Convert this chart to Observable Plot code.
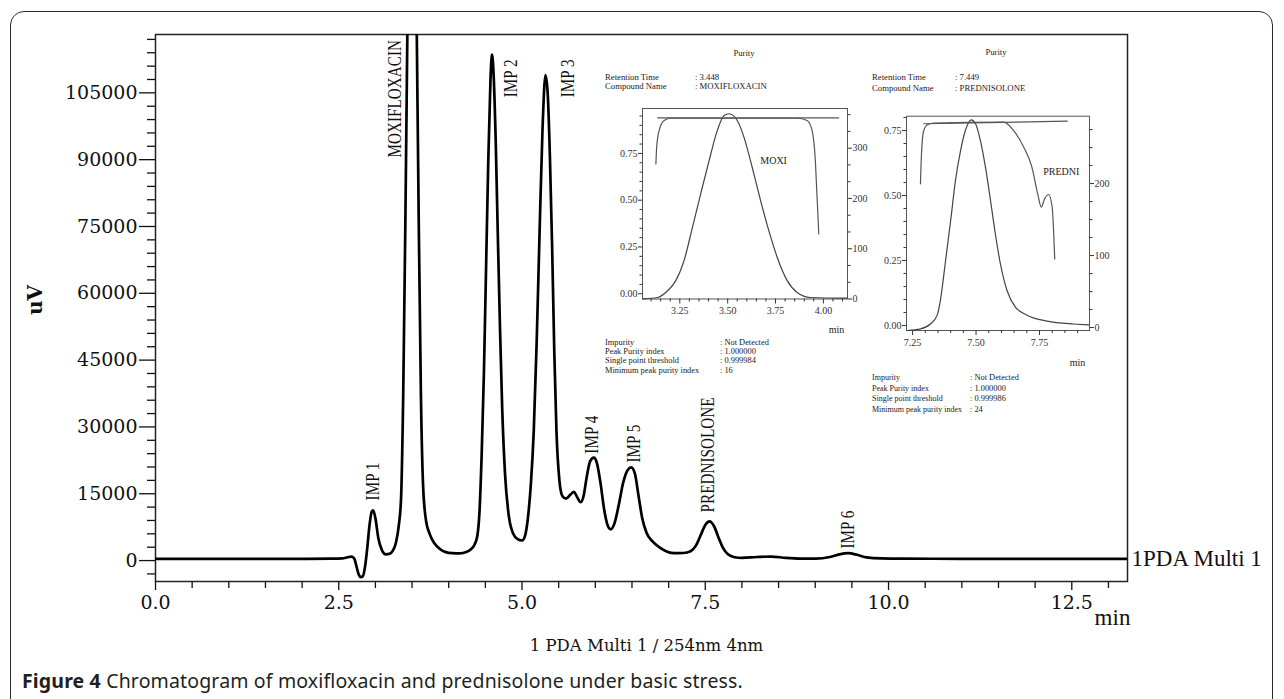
<!DOCTYPE html>
<html><head><meta charset="utf-8">
<script src="https://cdn.jsdelivr.net/npm/d3@7"></script>
<script src="https://cdn.jsdelivr.net/npm/@observablehq/plot@0.6"></script>
<style>
html,body{margin:0;padding:0;background:#fff;}
body{width:1284px;height:699px;position:relative;overflow:hidden;}
#border{position:absolute;left:10px;top:11px;width:1263px;height:760px;border:1.5px solid #2b2b2b;border-radius:14px;box-sizing:border-box;}
.abs{position:absolute;}
.info{position:absolute;font-family:"Liberation Serif",serif;font-size:8.7px;line-height:10px;color:#1a1a1a;white-space:nowrap;}
#caption{position:absolute;left:22px;top:671px;font-family:"Noto Sans",sans-serif;font-size:19.5px;line-height:20px;letter-spacing:0.15px;color:#231f20;white-space:nowrap;}
</style></head><body>
<div id="border"></div>
<div id="main" class="abs" style="left:0;top:0"></div>
<div id="inset1" class="abs" style="left:570px;top:100px"></div>
<div id="inset2" class="abs" style="left:850px;top:105px"></div>
<div id="info1" class="abs" style="left:0;top:0"></div>
<div id="info2" class="abs" style="left:0;top:0"></div>
<div id="caption"></div>
<script>
// ---------- main chromatogram data ----------
const time = [0.00,0.50,1.00,1.50,2.00,2.40,2.55,2.62,2.67,2.71,2.74,2.77,2.80,2.83,2.86,2.89,2.92,2.95,2.97,3.00,3.04,3.09,3.14,3.19,3.24,3.28,3.32,3.35,3.38,3.41,3.44,3.47,3.50,3.53,3.56,3.59,3.62,3.65,3.69,3.74,3.80,3.88,3.96,4.05,4.15,4.24,4.30,4.35,4.39,4.42,4.45,4.48,4.51,4.54,4.57,4.59,4.61,4.64,4.67,4.70,4.73,4.77,4.82,4.88,4.94,5.00,5.04,5.08,5.12,5.16,5.20,5.24,5.28,5.32,5.35,5.38,5.41,5.44,5.47,5.51,5.55,5.60,5.66,5.71,5.75,5.80,5.84,5.88,5.93,5.98,6.02,6.07,6.12,6.17,6.21,6.26,6.32,6.38,6.44,6.49,6.54,6.59,6.64,6.70,6.78,6.88,6.98,7.08,7.20,7.30,7.37,7.44,7.50,7.56,7.62,7.68,7.74,7.81,7.90,8.00,8.20,8.40,8.60,8.80,9.00,9.20,9.33,9.45,9.57,9.70,9.90,10.20,11.00,12.00,13.26];
const signal = [400,400,400,400,400,420,500,750,900,500,-1200,-3000,-3700,-3500,-1200,3000,8000,11000,11300,9500,5000,2300,1400,1500,2300,4000,8000,14000,38000,78000,125000,166000,183000,166000,125000,78000,38000,17000,9000,6000,4000,2600,1900,1650,1600,1900,2500,3500,5500,11000,24000,42000,66000,90000,108000,113600,110000,95000,73000,52000,34000,19000,10000,6000,4800,4500,5500,9500,17000,29000,49000,74000,97000,109000,105000,91000,71000,47000,29000,18000,14500,13900,14800,15400,14300,13100,14500,18500,22300,23100,22000,17500,11500,7800,7000,8300,12500,17500,20300,20900,19500,14500,9500,6200,4300,2900,2000,1650,1700,2100,3300,5800,8000,8800,7700,5200,2900,1400,750,600,800,900,600,450,450,800,1400,1650,1300,700,480,430,400,380,380];
const seriesName = "1PDA Multi 1";
const peakNames = ["IMP 1","MOXIFLOXACIN","IMP 2","IMP 3","IMP 4","IMP 5","PREDNISOLONE","IMP 6"];
const peakLabelTime = [2.97, 3.26, 4.85, 5.62, 5.96, 6.52, 7.54, 9.44];
const peakLabelValue = [13500, 90500, 104000, 104000, 24000, 22000, 10800, 2700];
const xMajorTicks = [0, 2.5, 5, 7.5, 10, 12.5];
const yMajorTicks = [0, 15000, 30000, 45000, 60000, 75000, 90000, 105000];
const yLabel = "uV";
const xLabel = "1 PDA Multi 1 / 254nm 4nm";
const xUnit = "min";
const captionBold = "Figure 4";
const captionText = " Chromatogram of moxifloxacin and prednisolone under basic stress.";

// ---------- inset 1 (moxifloxacin purity) ----------
const moxiChromT = [3.057,3.134,3.186,3.229,3.272,3.316,3.359,3.403,3.446,3.481,3.507,3.55,3.585,3.628,3.672,3.715,3.759,3.811,3.863,3.932,4.09,4.126];
const moxiChromV = [-0.027,-0.02,0.016,0.07,0.177,0.355,0.534,0.712,0.873,0.953,0.962,0.926,0.837,0.676,0.498,0.337,0.194,0.07,0.007,-0.02,-0.023,-0.023];
const moxiPurityT = [3.125,3.129,3.142,3.168,3.203,3.863,3.915,3.941,3.958,3.967,3.976];
const moxiPurityV = [0.694,0.783,0.873,0.926,0.938,0.938,0.926,0.873,0.712,0.516,0.32];
const moxiThreshT = [3.134, 4.08];
const moxiThreshV = [0.94, 0.94];
const moxiXTicks = [3.25, 3.5, 3.75, 4.0];
const moxiYTicks = [0, 0.25, 0.5, 0.75];
const moxiRightTicks = [0, 100, 200, 300];
const moxiName = "MOXI", moxiNameT = 3.74, moxiNameV = 0.713;
const moxiTitle = "Purity";
const moxiHeadLabels = ["Retention Time", "Compound Name"];
const moxiHeadValues = [": 3.448", ": MOXIFLOXACIN"];
const moxiFootLabels = ["Impurity", "Peak Purity index", "Single point threshold", "Minimum peak purity index"];
const moxiFootValues = [": Not Detected", ": 1.000000", ": 0.999984", ": 16"];

// ---------- inset 2 (prednisolone purity) ----------
const prednChromT = [7.229,7.281,7.32,7.347,7.36,7.38,7.40,7.419,7.439,7.458,7.481,7.498,7.517,7.537,7.557,7.576,7.596,7.622,7.655,7.701,7.78,7.885,7.944];
const prednChromV = [-0.019,-0.013,0.006,0.04,0.1,0.25,0.404,0.558,0.673,0.75,0.791,0.776,0.712,0.609,0.481,0.353,0.237,0.135,0.071,0.04,0.017,0.006,0.003];
const prednPurityT = [7.281,7.285,7.294,7.31,7.334,7.609,7.648,7.688,7.72,7.743,7.757,7.77,7.786,7.80,7.806,7.81];
const prednPurityV = [0.545,0.66,0.75,0.773,0.778,0.782,0.75,0.686,0.609,0.506,0.455,0.487,0.504,0.455,0.353,0.256];
const prednThreshT = [7.294, 7.859];
const prednThreshV = [0.776, 0.786];
const prednXTicks = [7.25, 7.5, 7.75];
const prednYTicks = [0, 0.25, 0.5, 0.75];
const prednRightTicks = [0, 100, 200];
const prednName = "PREDNI", prednNameT = 7.836, prednNameV = 0.592;
const prednTitle = "Purity";
const prednHeadLabels = ["Retention Time", "Compound Name"];
const prednHeadValues = [": 7.449", ": PREDNISOLONE"];
const prednFootLabels = ["Impurity", "Peak Purity index", "Single point threshold", "Minimum peak purity index"];
const prednFootValues = [": Not Detected", ": 1.000000", ": 0.999986", ": 24"];

// ---------- main chart ----------
const table = time.map((t, i) => ({t, v: signal[i]}));
const last = table[table.length - 1];
const xMinor = d3.range(1, 27).map(k => k * 0.5).filter(v => v % 2.5 !== 0);
const yMinor = d3.range(-1, 40).map(k => k * 3000).filter(v => v % 15000 !== 0);
const serif = "'Liberation Serif', 'Times New Roman', serif";

const main = Plot.plot({
  width: 1284, height: 662,
  marginTop: 34, marginBottom: 81, marginLeft: 155, marginRight: 157,
  x: {domain: [0, 13.26]},
  y: {domain: [-4700, 118100]},
  style: {fontFamily: "'DejaVu Serif', serif", fontSize: "19px", color: "#111", background: "transparent", overflow: "visible"},
  marks: [
    Plot.axisY({ticks: yMinor, tickSize: 8, tickFormat: () => "", label: null, strokeWidth: 1.3}),
    Plot.axisY({ticks: yMajorTicks, tickSize: 16, tickPadding: 2, tickFormat: d => String(d), label: null, strokeWidth: 1.3}),
    Plot.axisX({ticks: xMinor, tickSize: 7, tickFormat: () => "", label: null, strokeWidth: 1.3}),
    Plot.axisX({ticks: xMajorTicks, tickSize: 9, tickPadding: 5, tickFormat: d => d.toFixed(1), label: null, strokeWidth: 1.3}),
    Plot.frame({stroke: "#222", strokeWidth: 1.5}),
    Plot.line(table, {x: "t", y: "v", curve: "monotone-x", stroke: "#000", strokeWidth: 2.7, clip: true}),
    Plot.text(peakNames, {x: (d, i) => peakLabelTime[i], y: (d, i) => peakLabelValue[i], text: d => d, rotate: -90, textAnchor: "start", lineAnchor: "middle", fontFamily: serif, fontSize: 19, fill: "#111"}),
    Plot.text([last], {x: "t", y: "v", text: () => seriesName, textAnchor: "start", lineAnchor: "middle", dx: 4, fontFamily: serif, fontSize: 23, fill: "#111"}),
    Plot.text([yLabel], {frameAnchor: "left", dx: -120, dy: -8, rotate: -90, textAnchor: "middle", lineAnchor: "middle", fontWeight: "bold", fontSize: 20, fill: "#111"}),
    Plot.text([xLabel], {frameAnchor: "bottom", dx: 5, dy: 64, textAnchor: "middle", lineAnchor: "middle", fontSize: 16.5, fill: "#111"}),
    Plot.text([xUnit], {frameAnchor: "bottom-right", dx: -15, dy: 36, textAnchor: "middle", lineAnchor: "middle", fontFamily: serif, fontSize: 23, fill: "#111"})
  ]
});
document.getElementById("main").appendChild(main);
main.querySelectorAll("text").forEach(el => {
  if (peakNames.includes(el.textContent)) {
    const len = el.getComputedTextLength();
    el.setAttribute("textLength", (len * 0.8).toFixed(1));
    el.setAttribute("lengthAdjust", "spacingAndGlyphs");
  }
});

// ---------- insets ----------
function makeInset(c) {
  const right = d3.scaleLinear(c.rightDomain, c.rightRange);
  const rightVals = c.rightTicks.map(right);
  const fmt = new Map(rightVals.map((v, i) => [v, String(c.rightTicks[i])]));
  const rightMinorVals = c.rightMinor.map(right);
  const t = (T, V) => T.map((x, i) => ({x, y: V[i]}));
  return Plot.plot({
    width: c.width, height: c.height,
    marginLeft: c.ml, marginTop: c.mt, marginRight: c.mr, marginBottom: c.mb,
    x: {domain: c.xDomain}, y: {domain: c.yDomain},
    style: {fontFamily: serif, fontSize: "10px", color: "#333", background: "transparent", overflow: "visible"},
    marks: [
      Plot.frame({stroke: "#555", strokeWidth: 1}),
      Plot.axisX({ticks: c.xMinor, tickSize: 3, tickFormat: () => "", label: null}),
      Plot.axisX({ticks: c.xTicks, tickSize: 5, tickPadding: 3, tickFormat: d => d.toFixed(2), label: null}),
      Plot.axisY({ticks: c.yMinor, tickSize: 2.5, tickFormat: () => "", label: null}),
      Plot.axisY({ticks: c.yTicks, tickSize: 4, tickPadding: 1, tickFormat: d => d.toFixed(2), label: null}),
      Plot.axisY({ticks: rightMinorVals, anchor: "right", tickSize: 2.5, tickFormat: () => "", label: null}),
      Plot.axisY({ticks: rightVals, anchor: "right", tickSize: 4, tickPadding: 1, tickFormat: d => fmt.get(d), label: null}),
      Plot.line(t(c.chromT, c.chromV), {x: "x", y: "y", curve: "monotone-x", stroke: "#444", strokeWidth: 1.2}),
      Plot.line(t(c.purT, c.purV), {x: "x", y: "y", curve: "monotone-x", stroke: "#555", strokeWidth: 1.2}),
      Plot.line(t(c.thrT, c.thrV), {x: "x", y: "y", stroke: "#555", strokeWidth: 1.2}),
      Plot.text([c.name], {x: () => c.nameT, y: () => c.nameV, text: d => d, textAnchor: "middle", fill: "#222", fontSize: 10}),
      Plot.text([xUnit], {frameAnchor: "bottom-right", dx: c.minDx, dy: c.minDy, textAnchor: "middle", lineAnchor: "middle", fill: "#222", fontSize: 10})
    ]
  });
}

const inset1 = makeInset({
  width: 310, height: 240, ml: 72, mt: 8, mr: 33, mb: 41.5,
  xDomain: [3.055, 4.126], yDomain: [-0.028, 0.99],
  xTicks: moxiXTicks, xMinor: d3.range(62, 83).filter(k => k % 5 !== 0).map(k => k * 0.05),
  yTicks: moxiYTicks, yMinor: d3.range(1, 20).filter(k => k % 5 !== 0).map(k => k * 0.05),
  rightTicks: moxiRightTicks, rightMinor: d3.range(1, 12).filter(k => k % 3 !== 0).map(k => k * 100 / 3),
  rightDomain: [0, 300], rightRange: [-0.028, 0.778],
  chromT: moxiChromT, chromV: moxiChromV, purT: moxiPurityT, purV: moxiPurityV, thrT: moxiThreshT, thrV: moxiThreshV,
  name: moxiName, nameT: moxiNameT, nameV: moxiNameV, minDx: -11, minDy: 31
});
document.getElementById("inset1").appendChild(inset1);

const inset2 = makeInset({
  width: 280, height: 270, ml: 56, mt: 10.7, mr: 41, mb: 45,
  xDomain: [7.226, 7.947], yDomain: [-0.019, 0.805],
  xTicks: prednXTicks, xMinor: d3.range(145, 159).filter(k => k % 5 !== 0).map(k => k * 0.05),
  yTicks: prednYTicks, yMinor: d3.range(1, 17).filter(k => k % 5 !== 0).map(k => k * 0.05),
  rightTicks: prednRightTicks, rightMinor: d3.range(1, 12).filter(k => k % 4 !== 0).map(k => k * 25),
  rightDomain: [0, 200], rightRange: [-0.0077, 0.546],
  chromT: prednChromT, chromV: prednChromV, purT: prednPurityT, purV: prednPurityV, thrT: prednThreshT, thrV: prednThreshV,
  name: prednName, nameT: prednNameT, nameV: prednNameV, minDx: -12, minDy: 32
});
document.getElementById("inset2").appendChild(inset2);

// ---------- inset text blocks ----------
function put(parent, x, y, txt, center, size) {
  const d = document.createElement("div");
  d.className = "info";
  d.textContent = txt;
  d.style.left = x + "px";
  d.style.top = (y - 5) + "px";
  if (size) d.style.fontSize = size + "px";
  if (center) d.style.transform = "translateX(-50%)";
  parent.appendChild(d);
}
const info1 = document.getElementById("info1");
put(info1, 744, 53, moxiTitle, true);
moxiHeadLabels.forEach((s, i) => { put(info1, 605, 77 + i * 9, s); put(info1, 695, 77 + i * 9, moxiHeadValues[i]); });
moxiFootLabels.forEach((s, i) => { put(info1, 605, 343 + i * 9.2, s, false, 8.4); put(info1, 720, 343 + i * 9.2, moxiFootValues[i], false, 8.4); });

const info2 = document.getElementById("info2");
put(info2, 996, 52, prednTitle, true);
prednHeadLabels.forEach((s, i) => { put(info2, 872, 77 + i * 11, s); put(info2, 955, 77 + i * 11, prednHeadValues[i]); });
prednFootLabels.forEach((s, i) => { put(info2, 872, 378 + i * 10.5, s, false, 8); put(info2, 970, 378 + i * 10.5, prednFootValues[i], false, 8.4); });

// ---------- caption ----------
const cap = document.getElementById("caption");
const b = document.createElement("b"); b.textContent = captionBold; cap.appendChild(b);
cap.appendChild(document.createTextNode(captionText));
</script>
</body></html>
